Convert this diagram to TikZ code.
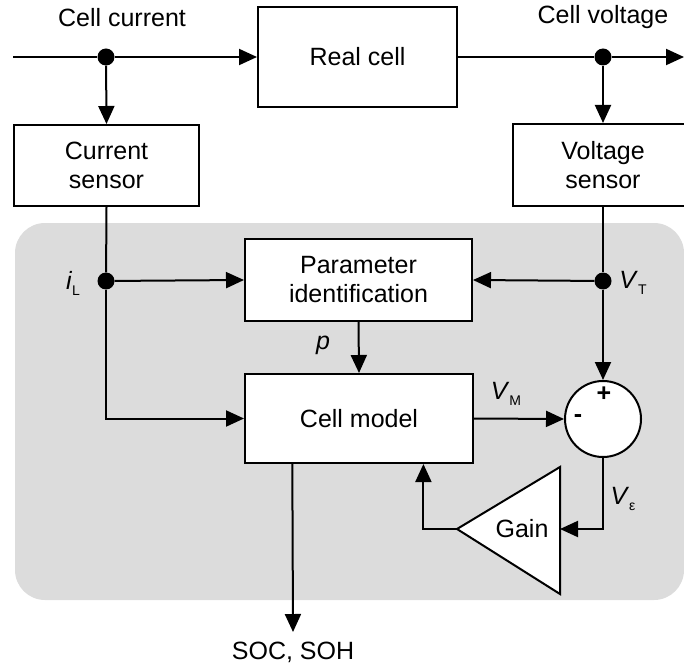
\documentclass[tikz,border=0pt]{standalone}
\usepackage{fontspec}
\setmainfont{Liberation Sans}
\usetikzlibrary{arrows.meta,calc}
\tikzset{
  box/.style={draw,line width=2pt,fill=white,align=center,inner sep=0pt,font=\fontsize{25}{29}\selectfont},
  conn/.style={line width=2pt},
  arr/.style={conn,-{Triangle[length=18pt,width=16pt]}},
  dot/.style={circle,fill=black,inner sep=0pt,minimum size=17pt},
  lbl/.style={font=\fontsize{25}{29}\selectfont,inner sep=0pt},
}
\newcommand{\subs}[1]{\raisebox{-0.45ex}{\fontsize{14}{14}\selectfont #1}}
\begin{document}
\begin{tikzpicture}[x=1pt,y=-1pt]
\useasboundingbox (0,0) rectangle (684,668);
\fill[fill={rgb,255:red,220;green,220;blue,220}, rounded corners=30pt] (15,223) rectangle (684,600);

\node[box,minimum width=199pt,minimum height=100pt] (realcell) at (357.5,57) {Real cell};
\node[box,minimum width=185pt,minimum height=81pt] (cursens) at (106.5,165.5) {Current\\sensor};
\node[box,minimum width=180pt,minimum height=82pt] (voltsens) at (603,165) {Voltage\\sensor};
\node[box,minimum width=227pt,minimum height=82pt] (paramid) at (358.5,280) {Parameter\\identification};
\node[box,minimum width=228pt,minimum height=89pt] (cellmodel) at (359,418.5) {Cell model};
\node[draw,circle,line width=2pt,fill=white,minimum size=76pt,inner sep=0pt] (sum) at (603,419) {};

\coordinate (gapex) at (457,529);
\coordinate (gtop) at (560,467);
\coordinate (gbot) at (560,594);
\coordinate (gin) at (560,529);
\draw[line width=2pt,fill=white] (gapex) -- (gtop) -- (gbot) -- cycle;
\node[lbl] (gain) at (522,529) {Gain};

\node[dot] (d1) at (106,57) {};
\node[dot] (d2) at (603,57) {};
\node[dot] (d3) at (106,281) {};
\node[dot] (d4) at (603,281) {};

\coordinate (inL) at (13,57);
\coordinate (outR) at (684,57);
\coordinate (soc) at (293,632);

\draw[conn] (inL) -- (d1);
\draw[arr] (d1) -- (realcell.west);
\draw[arr] (d1) -- (cursens.north);
\draw[conn] (realcell.east) -- (d2);
\draw[arr] (d2) -- (outR);
\draw[arr] (d2) -- (voltsens.north);

\draw[conn] (cursens.south) -- (d3);
\draw[arr] (d3) -- (paramid.west);
\draw[arr] (d3) |- (cellmodel.west);

\draw[conn] (voltsens.south) -- (d4);
\draw[arr] (d4) -- (paramid.east);
\draw[arr] (d4) -- (sum.north);

\draw[arr] (paramid.south) -- (cellmodel.north);
\draw[arr] (cellmodel.east) -- (sum.west);
\draw[arr] (sum.south) |- (gin);
\draw[arr] (gapex) -| ($(cellmodel.south west)!0.78!(cellmodel.south east)$);
\draw[arr] ($(cellmodel.south west)!0.21!(cellmodel.south east)$) -- (soc);

\node[lbl] (tcc) at (122,18) {Cell current};
\node[lbl] (tcv) at (603,17) {Cell voltage};
\node[lbl] (til) at (73,283) {\itshape i\/\subs{\upshape L}};
\node[lbl] (tvt) at (633,283) {\itshape V\/\subs{\upshape T}};
\node[lbl] (tp) at (323,345) {\itshape p};
\node[lbl] (tvm) at (506,394) {\itshape V\/\subs{\upshape M}};
\node[lbl] (tve) at (623,499) {\itshape V\/\subs{\upshape ε}};
\node[lbl] (tplus) at (604,394) {\textbf{+}};
\node[lbl] (tminus) at (578,419) {\textbf{-}};
\node[lbl] (tsoc) at (293,652) {SOC, SOH};
\end{tikzpicture}
\end{document}
